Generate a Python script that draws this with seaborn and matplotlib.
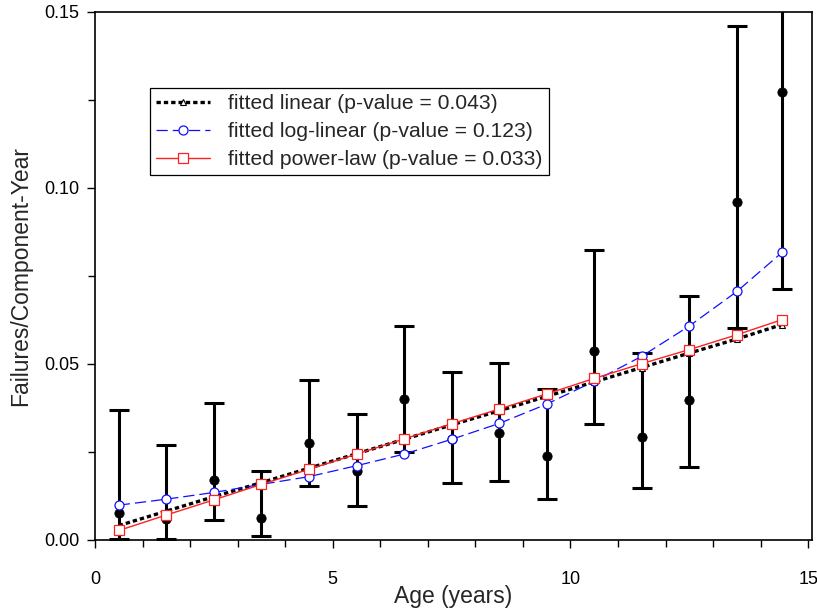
import numpy as np
import pandas as pd
import matplotlib
matplotlib.use("Agg")
import matplotlib.pyplot as plt
from matplotlib.ticker import MultipleLocator, FormatStrFormatter
import seaborn as sns

# Age midpoints (years)
age = [0.5, 1.5, 2.5, 3.5, 4.5, 5.5, 6.5, 7.5, 8.5, 9.5, 10.5, 11.5, 12.5, 13.5, 14.45]

# Observed failure rates with lower / upper interval bounds
observed = [0.0078, 0.0059, 0.0170, 0.0062, 0.0275, 0.0197, 0.0401, 0.0287, 0.0303,
            0.0239, 0.0536, 0.0294, 0.0398, 0.0961, 0.1273]
lower = [0.0003, 0.0002, 0.0057, 0.0010, 0.0154, 0.0097, 0.0249, 0.0161, 0.0169,
         0.0117, 0.0329, 0.0147, 0.0207, 0.0601, 0.0713]
upper = [0.0369, 0.0271, 0.0390, 0.0197, 0.0455, 0.0357, 0.0609, 0.0478, 0.0502,
         0.0429, 0.0824, 0.0530, 0.0692, 0.1459, 0.1900]

# Fitted models
fit_linear = [0.0041, 0.0082, 0.0123, 0.0163, 0.0204, 0.0245, 0.0286, 0.0327, 0.0367,
              0.0408, 0.0449, 0.0490, 0.0531, 0.0571, 0.0612]
fit_loglinear = [0.0099, 0.0116, 0.0135, 0.0158, 0.0180, 0.0211, 0.0244, 0.0286, 0.0331,
                 0.0386, 0.0451, 0.0522, 0.0608, 0.0706, 0.0817]
fit_power = [0.0027, 0.0071, 0.0114, 0.0158, 0.0201, 0.0244, 0.0287, 0.0330, 0.0372,
             0.0415, 0.0459, 0.0501, 0.0541, 0.0583, 0.0626]

labels = ["fitted linear (p-value = 0.043)",
          "fitted log-linear (p-value = 0.123)",
          "fitted power-law (p-value = 0.033)"]

sns.set_style("ticks")
plt.rcParams["font.family"] = ["Liberation Sans", "DejaVu Sans"]

fig = plt.figure(figsize=(8.17, 6.10), dpi=100)
ax = fig.add_axes([95 / 817, 70 / 610, 717 / 817, 528 / 610])

df = pd.DataFrame({"age": age, "obs": observed, "lo": lower, "hi": upper,
                   "lin": fit_linear, "loglin": fit_loglinear, "pow": fit_power})

# Observed rates with intervals
yerr = np.vstack([df["obs"] - df["lo"], df["hi"] - df["obs"]])
ax.errorbar(df["age"], df["obs"], yerr=yerr, fmt="none", ecolor="black",
            elinewidth=2.2, capsize=7, capthick=2.2, zorder=2)
sns.scatterplot(data=df, x="age", y="obs", ax=ax, color="black", s=45,
                edgecolor="black", zorder=3, legend=False)

# Fitted curves
sns.lineplot(data=df, x="age", y="lin", ax=ax, color="black", linewidth=2.4,
             linestyle=(0, (1.3, 0.9)), marker="^", markersize=5,
             markerfacecolor="white", markeredgecolor="black", markeredgewidth=0.8,
             label=labels[0], zorder=4)
sns.lineplot(data=df, x="age", y="loglin", ax=ax, color="#1010ff", linewidth=0.9,
             linestyle=(0, (9, 4)), marker="o", markersize=6.5,
             markerfacecolor="white", markeredgecolor="#1010ff", markeredgewidth=0.9,
             label=labels[1], zorder=5)
sns.lineplot(data=df, x="age", y="pow", ax=ax, color="#ff2020", linewidth=1.0,
             linestyle="-", marker="s", markersize=6.5,
             markerfacecolor="white", markeredgecolor="#ff2020", markeredgewidth=0.9,
             label=labels[2], zorder=6)

ax.set_xlim(0, 15.08)
ax.set_ylim(0, 0.15)
ax.xaxis.set_major_locator(MultipleLocator(5))
ax.xaxis.set_minor_locator(MultipleLocator(1))
ax.yaxis.set_major_locator(MultipleLocator(0.05))
ax.yaxis.set_minor_locator(MultipleLocator(0.025))
ax.yaxis.set_major_formatter(FormatStrFormatter("%.2f"))
ax.tick_params(which="both", direction="out", width=1, colors="black",
               labelsize=13, top=False, right=False)
ax.tick_params(which="major", length=6)
ax.tick_params(which="minor", length=5)
ax.tick_params(axis="x", which="major", pad=16)
ax.tick_params(axis="y", which="major", pad=5)
for side in ["top", "right", "bottom", "left"]:
    ax.spines[side].set_visible(True)
    ax.spines[side].set_color("black")
    ax.spines[side].set_linewidth(1.2)

ax.set_xlabel("Age (years)", fontsize=16.5, labelpad=-2)
ax.set_ylabel("Failures/Component-Year", fontsize=16.5, labelpad=9)

leg = ax.legend(loc="upper left", bbox_to_anchor=(55 / 717, 452 / 528),
                frameon=True, fancybox=False, edgecolor="black", framealpha=1,
                fontsize=15.2, handlelength=2.55, handletextpad=0.85,
                borderpad=0.3, labelspacing=0.42, borderaxespad=0)
leg.get_frame().set_linewidth(0.9)

fig.savefig("out.png", dpi=100)
